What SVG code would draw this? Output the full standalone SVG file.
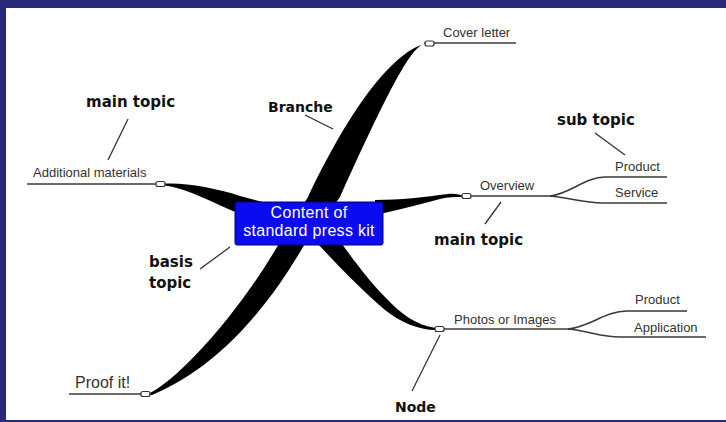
<svg xmlns="http://www.w3.org/2000/svg" width="726" height="422" viewBox="0 0 726 422">
<defs>
<style>
.lbl{font-family:"Liberation Sans",Arial,sans-serif;font-size:13px;fill:#333}
.ann{font-family:"DejaVu Sans",Verdana,sans-serif;font-size:15px;font-weight:bold;fill:#111}
.ln{fill:none;stroke:#3a3a3a;stroke-width:1.5}
.pt{fill:none;stroke:#333;stroke-width:1.3}
.br{fill:#000;stroke:none}
.nd{fill:#fff;stroke:#333;stroke-width:1.2}
.ctr{font-family:"Liberation Sans",Arial,sans-serif;font-size:16px;fill:#fff;text-anchor:middle}
</style>
</defs>
<rect x="0" y="0" width="726" height="422" fill="#29297b"/>
<rect x="6" y="8" width="720" height="412" fill="#fff"/>

<g id="connectors">
<path class="br" d="M428,43 C415,44 402,60 340,197 L303,247 C275,295 225,365 152,395 L146,395 C180,380 240,310 277,247 L308,197 C358,92 400,48 428,43 Z"/>
<path class="br" d="M163,184 C182,182 215,188 240,196 L270,204 L270,222 L238,213 C215,204 190,189 163,185 Z"/>
<path class="br" d="M342,244 C355,262 370,282 385,297 C400,313 415,325 436,328 L436,330 C418,330 400,322 385,310 C365,293 340,268 318,244 Z"/>
<path class="br" d="M375,200 C400,200 425,197 448,194 C455,193 460,195 464,196 L464,197 C455,197 448,197 440,199 C420,204 400,210 375,215 Z"/>
<path class="ln" d="M424,43 L516,43"/>
<path class="ln" d="M27,184 L166,184"/>
<path class="ln" d="M462,196 L550,196"/>
<path class="ln" d="M550,196 C570,194 585,177 605,177 L667,177"/>
<path class="ln" d="M550,196 C570,198 585,203 602,203 L667,203"/>
<path class="ln" d="M435,329 L568,329"/>
<path class="ln" d="M568,329 C590,327 605,311 627,311 L687,311"/>
<path class="ln" d="M568,329 C590,331 600,337 620,337 L706,337"/>
<path class="ln" d="M69,394 L149,394"/>
<path class="pt" d="M128,119 L108,160"/>
<path class="pt" d="M305,115 L333,129"/>
<path class="pt" d="M595,133 L625,155"/>
<path class="pt" d="M501,202 L485,224"/>
<path class="pt" d="M200,269 L230,247"/>
<path class="pt" d="M440,335 L412,391"/>
</g>

<g id="center">
<rect x="235" y="202" width="148" height="43" rx="2" fill="#0b0bef" stroke="#00007a" stroke-width="1"/>
<text class="ctr" x="309" y="218" letter-spacing="0.3">Content of</text>
<text class="ctr" x="309" y="236" letter-spacing="0.3">standard press kit</text>
</g>

<g id="cover-letter">
<rect class="nd" x="425" y="41" width="9" height="5" rx="2"/>
<text class="lbl" x="443" y="37">Cover letter</text>
</g>
<g id="additional-materials">
<rect class="nd" x="156" y="181.5" width="9" height="5" rx="2"/>
<text class="lbl" x="33" y="177">Additional materials</text>
</g>
<g id="overview">
<rect class="nd" x="462" y="193.5" width="9" height="5" rx="2"/>
<text class="lbl" x="480" y="190">Overview</text>
</g>
<g id="overview-product">
<text class="lbl" x="615" y="171">Product</text>
</g>
<g id="overview-service">
<text class="lbl" x="615" y="197">Service</text>
</g>
<g id="photos">
<rect class="nd" x="435" y="326.5" width="9" height="5" rx="2"/>
<text class="lbl" x="454" y="324">Photos or Images</text>
</g>
<g id="photos-product">
<text class="lbl" x="635" y="304">Product</text>
</g>
<g id="photos-application">
<text class="lbl" x="634" y="332">Application</text>
</g>
<g id="proof-it">
<rect class="nd" x="141" y="391.5" width="9" height="5" rx="2"/>
<text class="lbl" x="75" y="388" style="font-size:16px">Proof it!</text>
</g>

<g id="annotations">
<text class="ann" x="86" y="107">main topic</text>
<text class="ann" x="268" y="112" style="font-size:14px">Branche</text>
<text class="ann" x="557" y="125">sub topic</text>
<text class="ann" x="434" y="245">main topic</text>
<text class="ann" x="149" y="267">basis</text>
<text class="ann" x="149" y="288">topic</text>
<text class="ann" x="395" y="412" style="font-size:14px">Node</text>
</g>
</svg>
